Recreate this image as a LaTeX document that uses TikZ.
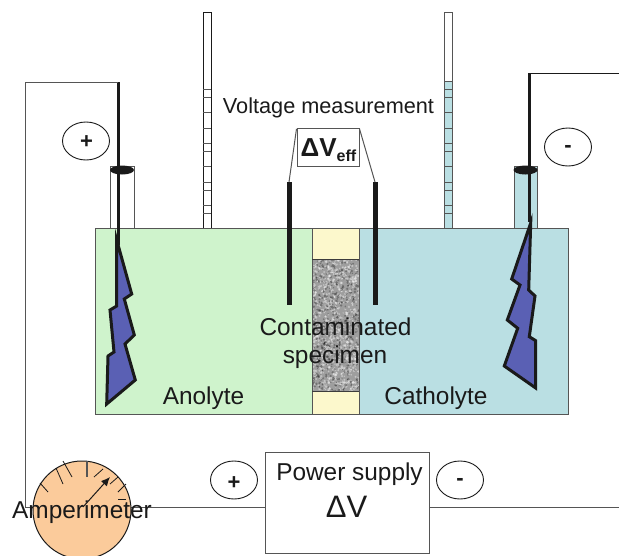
\documentclass[tikz,border=0pt]{standalone}
\usepackage{fontspec}
\setmainfont{Liberation Sans}
\definecolor{anol}{HTML}{CFF3CC}
\definecolor{cath}{HTML}{BADFE3}
\definecolor{seal}{HTML}{FCF8CC}
\definecolor{bolt}{HTML}{5A60B4}
\definecolor{dial}{HTML}{FBCB9B}
\definecolor{ink}{HTML}{1A1A1A}
\definecolor{edge}{HTML}{555555}
\tikzset{
  x=1pt,y=-1pt,
  thinline/.style={draw=edge,line width=1pt},
  wire/.style={draw=edge,line width=1pt},
  thickwire/.style={draw=ink,line width=3pt},
  probe/.style={draw=ink,line width=5pt},
  tick/.style={draw=ink,line width=0.8pt},
  boltshape/.style={draw=ink,fill=bolt,line width=3pt,line join=miter},
  label/.style={text=ink,inner sep=0pt,font=\fontsize{24.4}{28}\selectfont,align=center},
  signoval/.style={draw=ink,line width=0.9pt,ellipse,minimum width=47pt,minimum height=38pt,inner sep=0pt,text=ink},
  signtext/.style={text=ink,inner sep=0pt,font=\bfseries\fontsize{22}{24}\selectfont},
  plainbox/.style={draw=edge,line width=1pt,fill=white,inner sep=0pt},
}
\usetikzlibrary{shapes.geometric,arrows.meta}
\begin{document}
\begin{tikzpicture}
\useasboundingbox (0,0) rectangle (619,555);
\clip (0,0) rectangle (619,555);
% burettes
\fill[white] (203,12) rectangle (211,228);
\fill[cath] (444,81) rectangle (452,228);
\draw[draw=ink,line width=1pt] (203,12) rectangle (211,228);
\draw[draw=edge,line width=1pt] (444,12) rectangle (452,228);
\foreach \yy in {89,97,112,128,143,151,166,182,190,205,213}{
  \draw[thinline] (203,\yy) -- (211,\yy);
  \draw[thinline] (444,\yy) -- (452,\yy);
}
\draw[thinline] (444,81) -- (452,81);
% tubes
\draw[thinline,fill=white] (110,228) -- (110,166) -- (134,166) -- (134,228);
\draw[thinline,fill=cath] (514,228) -- (514,166) -- (537,166) -- (537,228);
% tank
\fill[anol] (95,228) rectangle (312,414);
\fill[cath] (359,228) rectangle (568,414);
\fill[seal] (312,228) rectangle (359,414);
% specimen
\begin{scope}
\clip (312,259) rectangle (359,391);
\fill[black!38] (312,259) rectangle (359,391);
\pgfmathsetseed{7}
\foreach \i in {1,...,1300}{
  \pgfmathsetmacro{\px}{312+47*rnd}
  \pgfmathsetmacro{\py}{259+132*rnd}
  \pgfmathsetmacro{\sh}{int(rnd*100)}
  \pgfmathsetmacro{\rr}{0.6+0.9*rnd}
  \ifnum\sh<60
    \fill[white,opacity=0.4] (\px,\py) circle[radius=\rr pt];
  \else
    \fill[black,opacity=0.28] (\px,\py) circle[radius=\rr pt];
  \fi
}
\end{scope}
\draw[draw=edge,line width=1pt] (95,228) rectangle (568,414);
\draw[thinline] (312,228) -- (312,414);
\draw[thinline] (359,228) -- (359,414);
\draw[draw=ink!85!white,line width=1pt] (312,259) -- (359,259);
\draw[draw=ink!85!white,line width=1pt] (312,391) -- (359,391);
% electrodes
\draw[boltshape] (116.7,240) -- (131.7,294) -- (124.3,299) -- (134.3,335) -- (125,344) -- (135.3,380) -- (106.7,404) -- (108,356) -- (114,352) -- (110,310) -- (116.7,306) -- cycle;
\draw[boltshape] (530.7,223) -- (511.7,279) -- (520,285) -- (507.3,320) -- (517.7,328.3) -- (504.3,366) -- (535.7,388) -- (535.7,340.7) -- (529.3,336.7) -- (535,296) -- (528.7,290) -- cycle;
% stoppers
\fill[ink] (122,170) ellipse[x radius=12,y radius=4.5];
\fill[ink] (525.5,170) ellipse[x radius=12,y radius=4.5];
% named anchors
\coordinate (lefttop) at (118,82);
\coordinate (leftend) at (118,245);
\coordinate (righttop) at (529,73);
\coordinate (rightend) at (529,222);
\coordinate (rightfree) at (619,73);
\coordinate (corner) at (25,82);
\coordinate (cornerlow) at (25,507);
\coordinate (lowerright) at (619,507);
\coordinate (probeltop) at (289,182);
\coordinate (probelend) at (289,305);
\coordinate (probertop) at (375,182);
\coordinate (proberend) at (375,305);
\draw[thickwire] (lefttop) -- (leftend);
\draw[thickwire] (righttop) -- (rightend);
\draw[draw=ink,line width=1pt] (rightfree) -- (righttop);
\draw[wire] (lefttop) -- (corner) -- (cornerlow);
\draw[probe] (probeltop) -- (probelend);
\draw[probe] (probertop) -- (proberend);
% voltage box
\node[plainbox,minimum width=62pt,minimum height=38pt] (dv) at (328,147) {};
\node[text=ink,inner sep=0pt,font=\bfseries\fontsize{26}{28}\selectfont] (dvt) at (328.5,150) {ΔV\raisebox{-0.2em}{\fontsize{16}{18}\selectfont eff}};
\draw[thinline] (dv.150) -- (probeltop);
\draw[thinline] (dv.30) -- (probertop);
\node[label,font=\fontsize{21.7}{24}\selectfont] (vm) at (328.5,108) {Voltage measurement};
% sign ovals
\node[signoval] (plusa) at (86,141) {};
\node[signtext] at (86.5,142) {+};
\node[signoval] (minusa) at (568,147) {};
\node[signtext] at (568,149) {-};
\node[signoval] (plusb) at (234,480) {};
\node[signtext] at (234,483) {+};
\node[signoval] (minusb) at (460,480) {};
\node[signtext] at (460,482) {-};
% labels in tank
\node[label] (ano) at (203.5,398) {Anolyte};
\node[label] (cat) at (436,398) {Catholyte};
\node[label] (spec1) at (335.5,327) {Contaminated};
\node[label] (spec2) at (335,357) {specimen};
% power supply
\node[plainbox,minimum width=164pt,minimum height=101pt] (ps) at (347,503) {};
\node[label] (pst) at (349.5,474.5) {Power supply};
\node[label,font=\fontsize{31}{33}\selectfont] (psv) at (346.5,507) {ΔV};
\draw[thinline] (cornerlow) -- (ps.west |- cornerlow);
\draw[thinline] (ps.east |- lowerright) -- (lowerright);
% ammeter
\node[draw=ink,line width=1pt,fill=dial,circle,minimum size=98pt,inner sep=0pt] (amp) at (82,510) {};
\draw[tick] (40,483) -- (48,492);
\draw[tick] (56,468) -- (63,484);
\draw[tick] (63,461) -- (72,477);
\draw[draw=edge,line width=1.2pt] (87,461) -- (87,477);
\draw[tick] (103,469) -- (94,477);
\draw[tick] (118,477) -- (110,484);
\draw[tick] (126,484) -- (118,492);
\draw[tick] (118,499) -- (126,499);
\coordinate (needlebase) at (83,507);
\coordinate (needletip) at (110,477);
\draw[draw=ink,line width=1pt,-{Latex[length=9pt,width=8pt]}] (needlebase) -- (needletip);
\node[label] (ampt) at (82,512) {Amperimeter};
\end{tikzpicture}
\end{document}
